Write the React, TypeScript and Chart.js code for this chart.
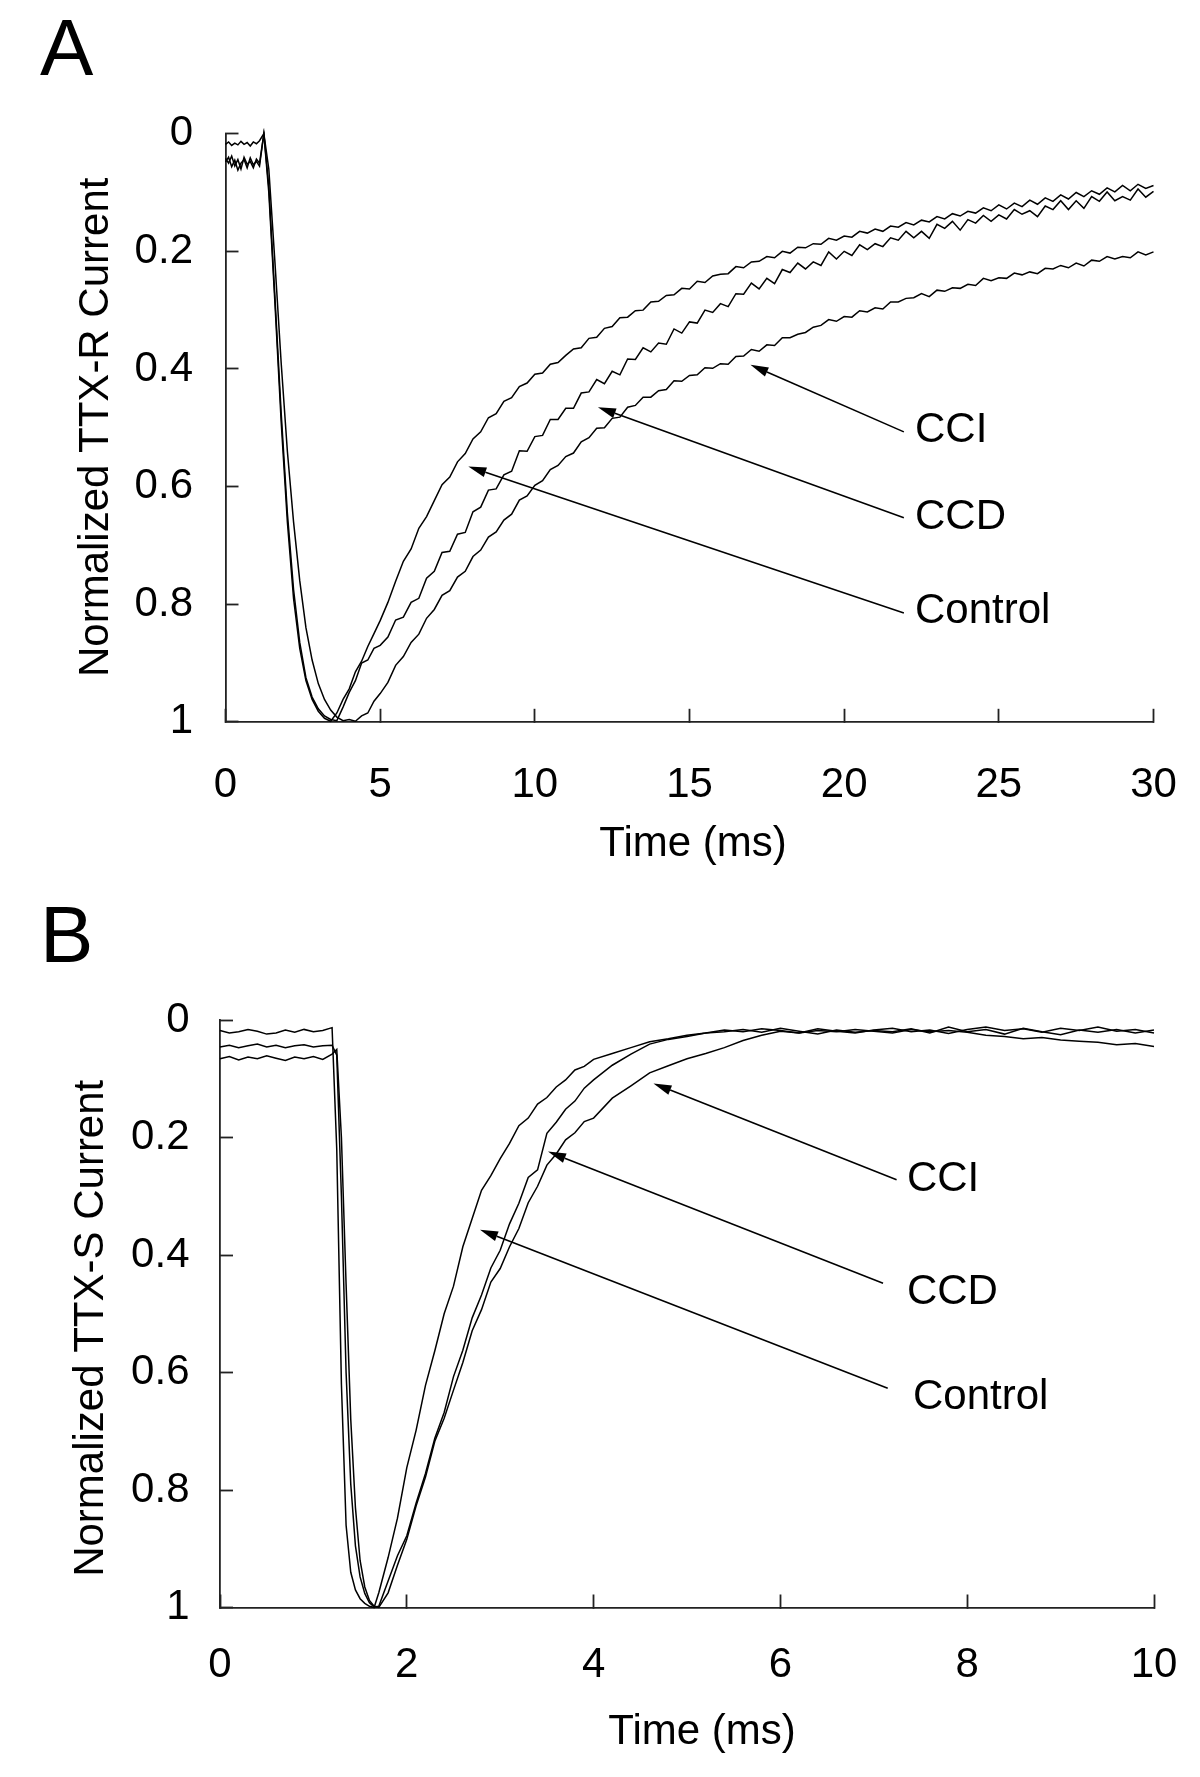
import React, { useEffect, useRef } from 'react';
import { Chart, registerables } from 'chart.js';

Chart.register(...registerables);

const FONT = '"Liberation Sans", Arial, Helvetica, sans-serif';

// ---------------- Panel A (TTX-R) ----------------
const TIME_A = [
  0, 0.1, 0.2, 0.3, 0.4, 0.5, 0.6, 0.7, 0.8, 0.9, 1.0, 1.1,
  1.24,
  1.4, 1.6, 1.8, 2.0, 2.2, 2.4, 2.6, 2.8, 3.0, 3.2, 3.4, 3.6, 3.8, 4.0, 4.2, 4.4, 4.6, 4.8, 5.0,
  5.25, 5.5, 5.75, 6.0, 6.25, 6.5, 6.75, 7.0, 7.25, 7.5,
  7.75, 8.0, 8.25, 8.5, 8.75, 9.0, 9.25, 9.5, 9.75, 10.0,
  10.25, 10.5, 10.75, 11.0, 11.25, 11.5, 11.75, 12.0, 12.25, 12.5,
  12.75, 13.0, 13.25, 13.5, 13.75, 14.0, 14.25, 14.5, 14.75, 15.0,
  15.25, 15.5, 15.75, 16.0, 16.25, 16.5, 16.75, 17.0, 17.25, 17.5,
  17.75, 18.0, 18.25, 18.5, 18.75, 19.0, 19.25, 19.5, 19.75, 20.0,
  20.25, 20.5, 20.75, 21.0, 21.25, 21.5, 21.75, 22.0, 22.25, 22.5,
  22.75, 23.0, 23.25, 23.5, 23.75, 24.0, 24.25, 24.5, 24.75, 25.0,
  25.25, 25.5, 25.75, 26.0, 26.25, 26.5, 26.75, 27.0, 27.25, 27.5,
  27.75, 28.0, 28.25, 28.5, 28.75, 29.0, 29.25, 29.5, 29.75, 30.0,
];
const A_CONTROL = [
  0.018, 0.014, 0.02, 0.016, 0.019, 0.013, 0.018, 0.015, 0.021, 0.014, 0.017, 0.012,
  0.0,
  0.1, 0.29, 0.49, 0.66, 0.79, 0.875, 0.93, 0.962, 0.982, 0.994, 0.999, 0.985, 0.962, 0.944, 0.915, 0.897, 0.872, 0.85, 0.828,
  0.797, 0.761, 0.727, 0.706, 0.671, 0.651, 0.624, 0.597, 0.584, 0.558,
  0.544, 0.519, 0.507, 0.483, 0.476, 0.455, 0.449, 0.43, 0.424, 0.409,
  0.407, 0.392, 0.389, 0.377, 0.366, 0.364, 0.348, 0.346, 0.331, 0.328,
  0.313, 0.312, 0.301, 0.3, 0.286, 0.285, 0.275, 0.274, 0.263, 0.264,
  0.251, 0.253, 0.242, 0.239, 0.238, 0.226, 0.228, 0.218, 0.217, 0.209,
  0.211, 0.2, 0.203, 0.193, 0.194, 0.187, 0.188, 0.178, 0.181, 0.174,
  0.176, 0.166, 0.169, 0.162, 0.166, 0.157, 0.159, 0.151, 0.155, 0.147,
  0.15, 0.141, 0.145, 0.136, 0.14, 0.132, 0.135, 0.126, 0.131, 0.121,
  0.128, 0.118, 0.124, 0.113, 0.12, 0.109, 0.115, 0.104, 0.111, 0.1,
  0.107, 0.097, 0.103, 0.092, 0.099, 0.088, 0.097, 0.086, 0.093, 0.088,
];
const A_CCD = [
  0.042, 0.05, 0.038, 0.055, 0.044, 0.06, 0.04, 0.052, 0.047, 0.058, 0.043, 0.05,
  0.0,
  0.09, 0.28, 0.475, 0.645, 0.775, 0.865, 0.925, 0.958, 0.978, 0.99, 0.996, 0.998, 0.975, 0.95, 0.93, 0.9, 0.895, 0.875, 0.87,
  0.856, 0.827, 0.822, 0.797, 0.79, 0.756, 0.744, 0.712, 0.71, 0.681,
  0.678, 0.643, 0.635, 0.606, 0.604, 0.58, 0.574, 0.539, 0.54, 0.515,
  0.513, 0.486, 0.486, 0.467, 0.467, 0.441, 0.439, 0.418, 0.425, 0.404,
  0.41, 0.383, 0.384, 0.364, 0.371, 0.356, 0.358, 0.332, 0.339, 0.32,
  0.322, 0.3, 0.304, 0.289, 0.294, 0.272, 0.273, 0.254, 0.264, 0.246,
  0.255, 0.231, 0.236, 0.22, 0.23, 0.218, 0.224, 0.201, 0.213, 0.2,
  0.207, 0.189, 0.197, 0.187, 0.192, 0.177, 0.181, 0.166, 0.177, 0.166,
  0.178, 0.154, 0.161, 0.149, 0.164, 0.146, 0.152, 0.139, 0.149, 0.138,
  0.145, 0.129, 0.137, 0.131, 0.141, 0.123, 0.129, 0.114, 0.129, 0.114,
  0.127, 0.107, 0.115, 0.099, 0.114, 0.107, 0.113, 0.094, 0.108, 0.098,
];
const A_CCI = [
  0.048, 0.04, 0.056, 0.045, 0.062, 0.05, 0.044, 0.058, 0.041, 0.053, 0.047, 0.055,
  0.0,
  0.06, 0.22, 0.39, 0.54, 0.66, 0.76, 0.84, 0.895, 0.935, 0.962, 0.98, 0.992, 0.998, 0.996, 0.999, 0.99, 0.985, 0.965, 0.952,
  0.933, 0.904, 0.889, 0.865, 0.851, 0.824, 0.809, 0.785, 0.777, 0.754,
  0.744, 0.719, 0.708, 0.686, 0.677, 0.657, 0.647, 0.623, 0.616, 0.598,
  0.59, 0.571, 0.564, 0.549, 0.543, 0.524, 0.517, 0.501, 0.5, 0.484,
  0.482, 0.465, 0.462, 0.448, 0.448, 0.437, 0.435, 0.42, 0.421, 0.411,
  0.41, 0.398, 0.399, 0.391, 0.392, 0.379, 0.378, 0.367, 0.37, 0.359,
  0.36, 0.347, 0.347, 0.341, 0.338, 0.329, 0.326, 0.316, 0.319, 0.311,
  0.312, 0.301, 0.303, 0.296, 0.298, 0.286, 0.286, 0.28, 0.279, 0.272,
  0.277, 0.266, 0.268, 0.262, 0.263, 0.256, 0.258, 0.246, 0.25, 0.245,
  0.246, 0.237, 0.24, 0.235, 0.238, 0.229, 0.23, 0.224, 0.228, 0.22,
  0.225, 0.215, 0.217, 0.209, 0.213, 0.209, 0.211, 0.201, 0.206, 0.201,
];
const A_X_TICKS = [0, 5, 10, 15, 20, 25, 30];
const A_X_LABELS = ['0', '5', '10', '15', '20', '25', '30'];
const A_Y_TICKS = [0, 0.2, 0.4, 0.6, 0.8, 1];
const A_Y_LABELS = ['0', '0.2', '0.4', '0.6', '0.8', '1'];
// annotation arrows (data coordinates): CCI, CCD, Control
const ANNOT_NAMES = ['CCI', 'CCD', 'Control'];
const A_HEAD_X = [16.97, 12.04, 7.85];
const A_HEAD_Y = [0.393, 0.465, 0.566];
const A_TAIL_X = [21.93, 21.93, 21.93];
const A_TAIL_Y = [0.507, 0.653, 0.815];
const A_LABEL_X = [22.29, 22.29, 22.29];
const A_LABEL_Y = [0.504, 0.653, 0.812];

// ---------------- Panel B (TTX-S) ----------------
const TIME_B = [
  0, 0.1, 0.2, 0.3, 0.4, 0.5, 0.6, 0.7, 0.8, 0.9, 1.0, 1.1, 1.2,
  1.25, 1.3, 1.35, 1.4, 1.45, 1.5, 1.55, 1.6, 1.65, 1.7,
  1.8, 1.9, 2.0, 2.1, 2.2, 2.3, 2.4, 2.5, 2.6, 2.7, 2.8, 2.9, 3.0, 3.1, 3.2, 3.3, 3.4, 3.5, 3.6, 3.7, 3.8, 3.9, 4.0,
  4.2, 4.4, 4.6, 4.8, 5.0, 5.2, 5.4, 5.6, 5.8, 6.0, 6.2, 6.4, 6.6, 6.8, 7.0, 7.2, 7.4, 7.6, 7.8, 8.0,
  8.2, 8.4, 8.6, 8.8, 9.0, 9.2, 9.4, 9.6, 9.8, 10.0,
];
const B_CONTROL = [
  0.018, 0.022, 0.02, 0.016, 0.019, 0.024, 0.022, 0.017, 0.021, 0.016, 0.02, 0.018, 0.013,
  0.22, 0.62, 0.86, 0.94, 0.97, 0.985, 0.993, 0.998, 1.0, 0.975,
  0.915, 0.848, 0.762, 0.698, 0.622, 0.563, 0.5, 0.453, 0.386, 0.338, 0.29, 0.265, 0.236, 0.21, 0.18, 0.167, 0.143, 0.132, 0.114, 0.102, 0.085, 0.079, 0.067,
  0.057, 0.047, 0.037, 0.032, 0.026, 0.022, 0.017, 0.02, 0.015, 0.018, 0.022, 0.018, 0.02, 0.016, 0.019, 0.022, 0.016, 0.02, 0.018, 0.021,
  0.026, 0.028, 0.032, 0.03, 0.034, 0.036, 0.038, 0.042, 0.04, 0.045,
];
const B_CCD = [
  0.046, 0.043, 0.047, 0.044, 0.041, 0.046, 0.043, 0.047, 0.044, 0.042, 0.046, 0.044, 0.043,
  0.06, 0.3, 0.6, 0.79, 0.895, 0.948, 0.976, 0.992, 0.999, 0.998,
  0.955, 0.912, 0.878, 0.822, 0.772, 0.712, 0.668, 0.607, 0.562, 0.507, 0.468, 0.422, 0.392, 0.347, 0.312, 0.268, 0.255, 0.193, 0.174, 0.152, 0.138, 0.116, 0.102,
  0.077, 0.058, 0.041, 0.033, 0.028, 0.022, 0.02, 0.016, 0.021, 0.014, 0.019, 0.024, 0.017, 0.021, 0.018, 0.02, 0.015, 0.022, 0.012, 0.02,
  0.016, 0.024, 0.014, 0.02, 0.025, 0.017, 0.021, 0.016, 0.022, 0.017,
];
const B_CCI = [
  0.066, 0.062, 0.068, 0.063, 0.066, 0.061, 0.065, 0.069, 0.063, 0.066, 0.062, 0.067, 0.058,
  0.05, 0.2, 0.45, 0.68, 0.83, 0.92, 0.965, 0.988, 0.998, 1.0,
  0.975, 0.928, 0.884, 0.827, 0.778, 0.717, 0.678, 0.63, 0.583, 0.529, 0.493, 0.446, 0.423, 0.386, 0.355, 0.311, 0.283, 0.247, 0.228, 0.204, 0.192, 0.173, 0.167,
  0.133, 0.112, 0.09, 0.078, 0.066, 0.057, 0.047, 0.035, 0.026, 0.019, 0.022, 0.015, 0.019, 0.022, 0.017, 0.014, 0.02, 0.017, 0.023, 0.016,
  0.012, 0.018, 0.015, 0.021, 0.014, 0.018, 0.012, 0.019, 0.016, 0.022,
];
const B_X_TICKS = [0, 2, 4, 6, 8, 10];
const B_X_LABELS = ['0', '2', '4', '6', '8', '10'];
const B_Y_TICKS = [0, 0.2, 0.4, 0.6, 0.8, 1];
const B_Y_LABELS = ['0', '0.2', '0.4', '0.6', '0.8', '1'];
const B_HEAD_X = [4.641, 3.512, 2.784];
const B_HEAD_Y = [0.108, 0.224, 0.357];
const B_TAIL_X = [7.244, 7.099, 7.149];
const B_TAIL_Y = [0.272, 0.448, 0.627];
const B_LABEL_X = [7.355, 7.355, 7.42];
const B_LABEL_Y = [0.271, 0.463, 0.642];

type PanelCfg = {
  letter: string;
  xTitle: string;
  yTitle: string;
  time: number[];
  series: number[][];
  xMax: number;
  xTicks: number[];
  xLabels: string[];
  yTicks: number[];
  yLabels: string[];
  headX: number[];
  headY: number[];
  tailX: number[];
  tailY: number[];
  labelX: number[];
  labelY: number[];
  geom: {
    height: number;
    top: number;
    left: number;
    right: number;
    xAxisH: number;
    yTickPad: number;
    xTickPad: number;
    yTitleX: number;
    yTitleY: number;
    xTitleX: number;
    xTitleY: number;
    letterX: number;
    letterY: number;
  };
};

const PANEL_A: PanelCfg = {
  letter: 'A',
  xTitle: 'Time (ms)',
  yTitle: 'Normalized TTX-R Current',
  time: TIME_A,
  series: [A_CONTROL, A_CCD, A_CCI],
  xMax: 30,
  xTicks: A_X_TICKS,
  xLabels: A_X_LABELS,
  yTicks: A_Y_TICKS,
  yLabels: A_Y_LABELS,
  headX: A_HEAD_X,
  headY: A_HEAD_Y,
  tailX: A_TAIL_X,
  tailY: A_TAIL_Y,
  labelX: A_LABEL_X,
  labelY: A_LABEL_Y,
  geom: {
    height: 890, top: 133.7, left: 225.5, right: 46.5, xAxisH: 168.2,
    yTickPad: 45.5, xTickPad: 51,
    yTitleX: 96.5, yTitleY: 427.3, xTitleX: 693, xTitleY: 844.5,
    letterX: 40, letterY: 75,
  },
};

const PANEL_B: PanelCfg = {
  letter: 'B',
  xTitle: 'Time (ms)',
  yTitle: 'Normalized TTX-S Current',
  time: TIME_B,
  series: [B_CONTROL, B_CCD, B_CCI],
  xMax: 10,
  xTicks: B_X_TICKS,
  xLabels: B_X_LABELS,
  yTicks: B_Y_TICKS,
  yLabels: B_Y_LABELS,
  headX: B_HEAD_X,
  headY: B_HEAD_Y,
  tailX: B_TAIL_X,
  tailY: B_TAIL_Y,
  labelX: B_LABEL_X,
  labelY: B_LABEL_Y,
  geom: {
    height: 887, top: 130, left: 220, right: 46, xAxisH: 169.5,
    yTickPad: 43.5, xTickPad: 46,
    yTitleX: 91.5, yTitleY: 438.3, xTitleX: 702, xTitleY: 842,
    letterX: 40, letterY: 71.7,
  },
};

function makeTextPlugin(cfg: PanelCfg) {
  return {
    id: 'panelText' + cfg.letter,
    afterDraw(chart: any) {
      const ctx = chart.ctx as CanvasRenderingContext2D;
      const xs = chart.scales.x;
      const ys = chart.scales.y;
      const g = cfg.geom;
      ctx.save();
      ctx.fillStyle = '#000';
      ctx.strokeStyle = '#000';

      ctx.font = `80px ${FONT}`;
      ctx.textAlign = 'left';
      ctx.textBaseline = 'alphabetic';
      ctx.fillText(cfg.letter, g.letterX, g.letterY);

      ctx.font = `42px ${FONT}`;
      ctx.textAlign = 'center';
      ctx.textBaseline = 'middle';
      ctx.fillText(cfg.xTitle, g.xTitleX, g.xTitleY);

      ctx.save();
      ctx.translate(g.yTitleX, g.yTitleY);
      ctx.rotate(-Math.PI / 2);
      ctx.fillText(cfg.yTitle, 0, 0);
      ctx.restore();

      // arrows + labels
      ctx.lineWidth = 1.6;
      for (let i = 0; i < ANNOT_NAMES.length; i++) {
        const hx = xs.getPixelForValue(cfg.headX[i]);
        const hy = ys.getPixelForValue(cfg.headY[i]);
        const tx = xs.getPixelForValue(cfg.tailX[i]);
        const ty = ys.getPixelForValue(cfg.tailY[i]);
        const ang = Math.atan2(hy - ty, hx - tx);
        const headLen = 18;
        const headHalf = 5;
        const bx = hx - headLen * Math.cos(ang);
        const by = hy - headLen * Math.sin(ang);
        ctx.beginPath();
        ctx.moveTo(tx, ty);
        ctx.lineTo(bx, by);
        ctx.stroke();
        ctx.beginPath();
        ctx.moveTo(hx, hy);
        ctx.lineTo(bx + headHalf * Math.sin(ang), by - headHalf * Math.cos(ang));
        ctx.lineTo(bx - headHalf * Math.sin(ang), by + headHalf * Math.cos(ang));
        ctx.closePath();
        ctx.fill();

        ctx.font = `42px ${FONT}`;
        ctx.textAlign = 'left';
        ctx.textBaseline = 'middle';
        ctx.fillText(
          ANNOT_NAMES[i],
          xs.getPixelForValue(cfg.labelX[i]),
          ys.getPixelForValue(cfg.labelY[i])
        );
      }
      ctx.restore();
    },
  };
}

function buildChart(canvas: HTMLCanvasElement, cfg: PanelCfg) {
  const g = cfg.geom;
  const axisColor = '#222';
  const tickFont = { family: FONT, size: 42 };
  const grid = {
    drawOnChartArea: false,
    drawTicks: true,
    tickLength: -13,
    tickWidth: 1.8,
    tickColor: axisColor,
  };
  const border = { display: true, color: axisColor, width: 1.8 };
  return new Chart(canvas, {
    type: 'line',
    data: {
      datasets: cfg.series.map((s) => ({
        data: cfg.time.map((t, i) => ({ x: t, y: s[i] })),
        borderColor: '#000',
        borderWidth: 1.5,
        pointRadius: 0,
        tension: 0,
        fill: false,
        clip: false,
      })),
    },
    options: {
      responsive: false,
      animation: false,
      devicePixelRatio: 1,
      layout: { padding: { top: g.top, right: g.right, left: 0, bottom: 0 } },
      plugins: {
        legend: { display: false },
        tooltip: { enabled: false },
        title: { display: false },
      },
      scales: {
        x: {
          type: 'linear',
          min: 0,
          max: cfg.xMax,
          afterBuildTicks: (s: any) => {
            s.ticks = cfg.xTicks.map((v) => ({ value: v }));
          },
          afterFit: (s: any) => {
            s.height = g.xAxisH;
            s.paddingLeft = 0;
            s.paddingRight = 0;
          },
          ticks: {
            font: tickFont,
            color: '#000',
            padding: g.xTickPad,
            maxRotation: 0,
            autoSkip: false,
            callback: (_v: any, i: number) => cfg.xLabels[i],
          },
          grid,
          border,
        },
        y: {
          type: 'linear',
          reverse: true,
          min: 0,
          max: 1,
          afterBuildTicks: (s: any) => {
            s.ticks = cfg.yTicks.map((v) => ({ value: v }));
          },
          afterFit: (s: any) => {
            s.width = g.left;
            s.paddingTop = 0;
            s.paddingBottom = 0;
          },
          ticks: {
            font: tickFont,
            color: '#000',
            padding: g.yTickPad,
            autoSkip: false,
            callback: (_v: any, i: number) => cfg.yLabels[i],
          },
          grid,
          border,
        },
      },
    } as any,
    plugins: [makeTextPlugin(cfg)],
  });
}

export default function App() {
  const refA = useRef<HTMLCanvasElement>(null);
  const refB = useRef<HTMLCanvasElement>(null);

  useEffect(() => {
    const a = buildChart(refA.current as HTMLCanvasElement, PANEL_A);
    const b = buildChart(refB.current as HTMLCanvasElement, PANEL_B);
    return () => {
      a.destroy();
      b.destroy();
    };
  }, []);

  return (
    <div
      style={{
        position: 'absolute',
        left: 0,
        top: 0,
        width: 1200,
        height: 1777,
        background: '#fff',
      }}
    >
      <canvas
        ref={refA}
        width={1200}
        height={PANEL_A.geom.height}
        style={{ display: 'block', width: 1200, height: PANEL_A.geom.height }}
      />
      <canvas
        ref={refB}
        width={1200}
        height={PANEL_B.geom.height}
        style={{ display: 'block', width: 1200, height: PANEL_B.geom.height }}
      />
    </div>
  );
}
